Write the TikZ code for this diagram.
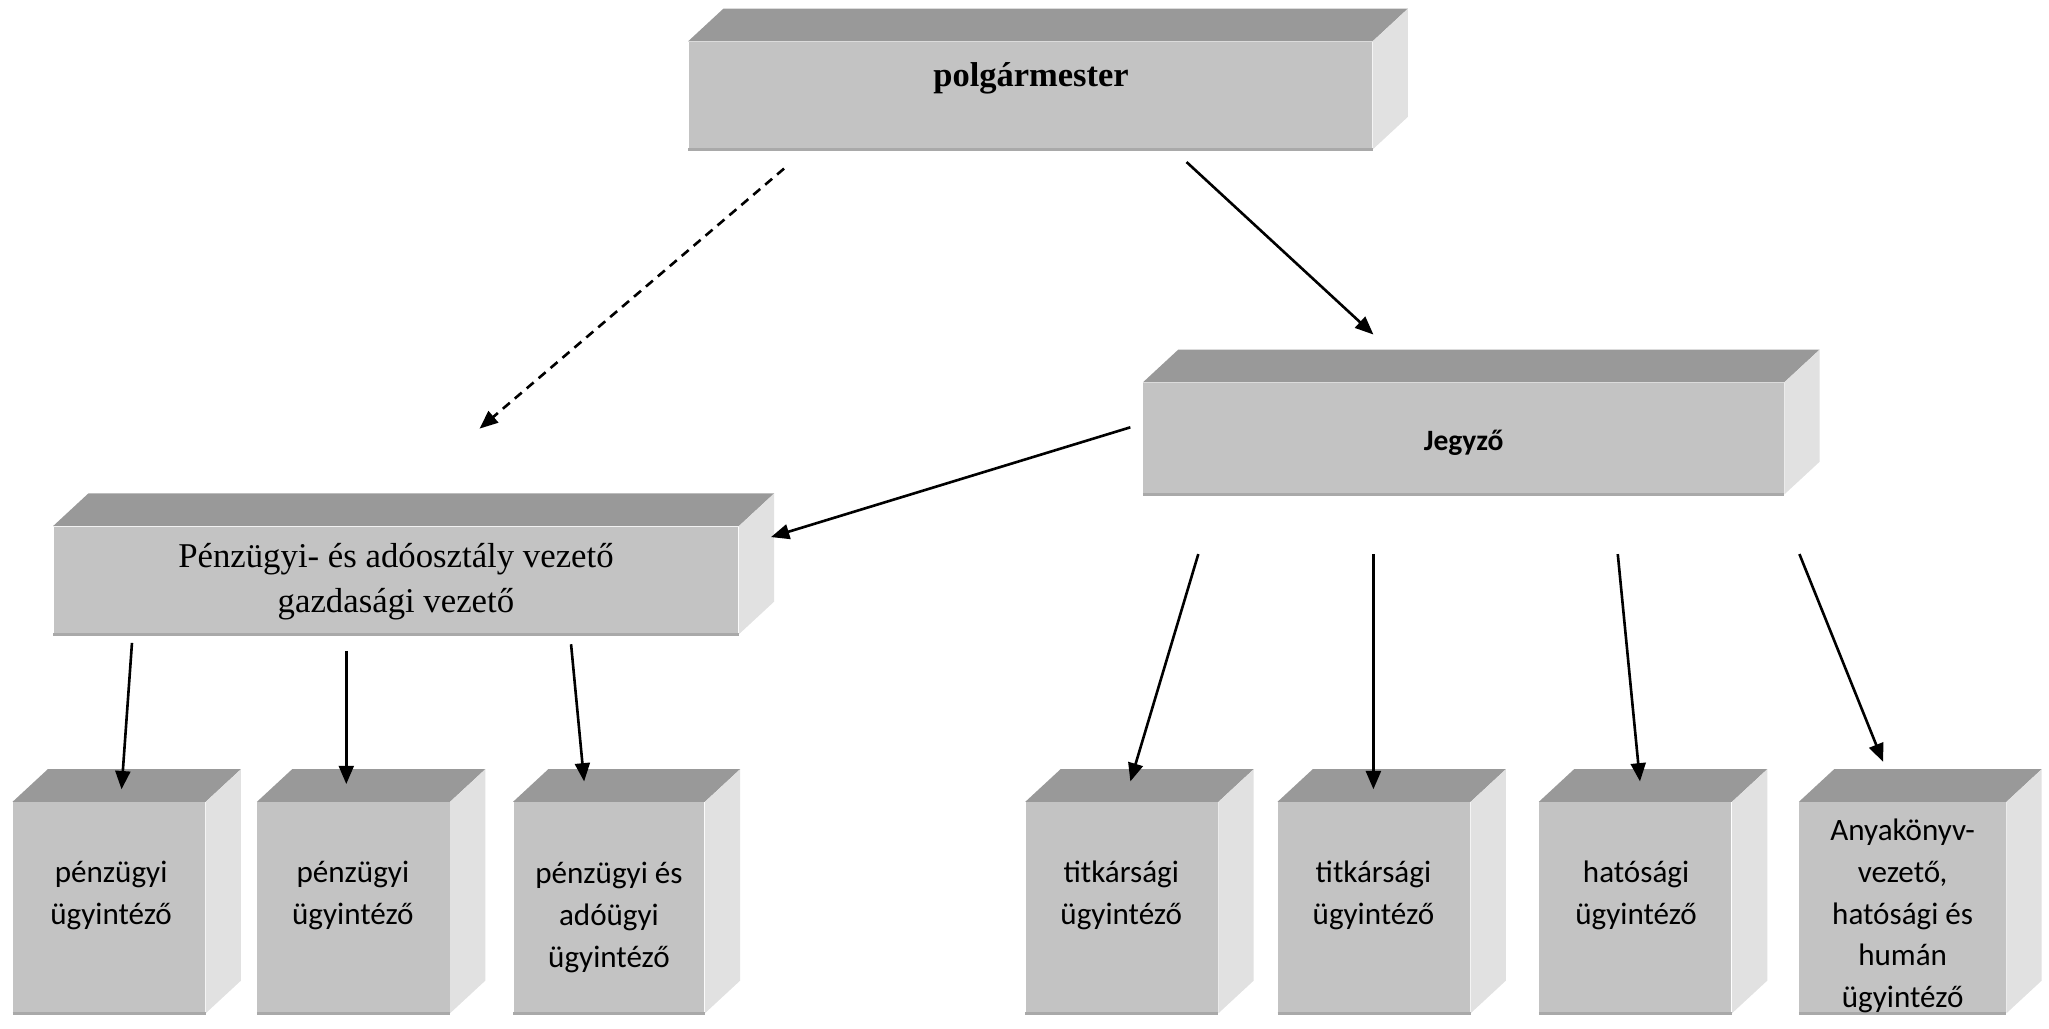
\documentclass[tikz,border=0pt]{standalone}
\usepackage{fontspec}
\setmainfont{Liberation Serif}
\newfontfamily\calib{Carlito}
\usetikzlibrary{arrows.meta,fit}
\definecolor{topc}{HTML}{999999}
\definecolor{frontc}{HTML}{C3C3C3}
\definecolor{sidec}{HTML}{E1E1E1}
\definecolor{edgec}{HTML}{A9A9A9}
\newcommand\cuboid[5]{%
  \node[frontface, fit={(#2,#3) (#4,#5)}] (#1) {};
  \fill[topc] (#1.north west) -- ++(27,-25) -- ([shift={(27,-25)}]#1.north east) -- (#1.north east) -- cycle;
  \fill[sidec] (#1.north east) -- ++(27,-25) -- ([shift={(27,-25)}]#1.south east) -- (#1.south east) -- cycle;
  \draw[edgec, line width=1pt] (#1.south west) -- (#1.south east);
}
\begin{document}
\begin{tikzpicture}[x=0.5pt,y=-0.5pt,
  frontface/.style={fill=frontc, inner sep=0pt, draw=none},
  tms/.style={inner sep=0pt, align=center, font=\fontsize{13.3}{17}\selectfont},
  cal/.style={inner sep=0pt, align=center, font=\calib\fontsize{11.9}{16}\selectfont},
  arr/.style={line width=1pt, -{Triangle[length=7pt,width=5.7pt]}},
  dsh/.style={arr, dash pattern=on 3.5pt off 2.5pt}]
\useasboundingbox (0,0) rectangle (1568,787);
% boxes
\cuboid{pm}{527}{32}{1050}{114}
\cuboid{jg}{875}{293}{1365}{378}
\cuboid{pv}{41}{403}{565}{485}
\cuboid{b1}{10}{614}{157}{775}
\cuboid{b2}{197}{614}{344}{775}
\cuboid{b3}{393}{614}{539}{775}
\cuboid{b4}{785}{614}{932}{775}
\cuboid{b5}{978}{614}{1125}{775}
\cuboid{b6}{1178}{614}{1325}{775}
\cuboid{b7}{1377}{614}{1535}{775}
% texts
\node[tms, font=\bfseries\fontsize{13.2}{17}\selectfont] (pm-t) at (789,60) {polgármester};
\node[cal, font=\calib\bfseries\fontsize{11.3}{14}\selectfont] (jg-t) at (1120,339) {Jegyző};
\node[tms] (pv-t) at (303,445) {Pénzügyi- és adóosztály vezető\\gazdasági vezető};
\node[cal] (b1-t) at (85,685) {pénzügyi\\ügyintéző};
\node[cal] (b2-t) at (270,685) {pénzügyi\\ügyintéző};
\node[cal] (b3-t) at (466,702) {pénzügyi és\\adóügyi\\ügyintéző};
\node[cal] (b4-t) at (858,685) {titkársági\\ügyintéző};
\node[cal] (b5-t) at (1051,685) {titkársági\\ügyintéző};
\node[cal] (b6-t) at (1252,685) {hatósági\\ügyintéző};
\node[cal] (b7-t) at (1456,701) {Anyakönyv-\\vezető,\\hatósági és\\humán\\ügyintéző};
% connector ends
\coordinate (c1s) at (600,129);  \coordinate (c1e) at (367,328);
\coordinate (c2s) at (908,124);  \coordinate (c2e) at (1051,256);
\coordinate (c3s) at (865,327);  \coordinate (c3e) at (590,411);
\coordinate (c4s) at (101,492);  \coordinate (c4e) at (93,604);
\coordinate (c5s) at (265,498);  \coordinate (c5e) at (265,600);
\coordinate (c6s) at (437,493);  \coordinate (c6e) at (447,598);
\coordinate (c7s) at (917,424);  \coordinate (c7e) at (865,598);
\coordinate (c8s) at (1051,424); \coordinate (c8e) at (1051,604);
\coordinate (c9s) at (1238,424); \coordinate (c9e) at (1255,598);
\coordinate (c10s) at (1377,424); \coordinate (c10e) at (1441,583);
\draw[dsh] (c1s) -- (c1e);
\draw[arr] (c2s) -- (c2e);
\draw[arr] (c3s) -- (c3e);
\draw[arr] (c4s) -- (c4e);
\draw[arr] (c5s) -- (c5e);
\draw[arr] (c6s) -- (c6e);
\draw[arr] (c7s) -- (c7e);
\draw[arr] (c8s) -- (c8e);
\draw[arr] (c9s) -- (c9e);
\draw[arr] (c10s) -- (c10e);
\end{tikzpicture}
\end{document}
